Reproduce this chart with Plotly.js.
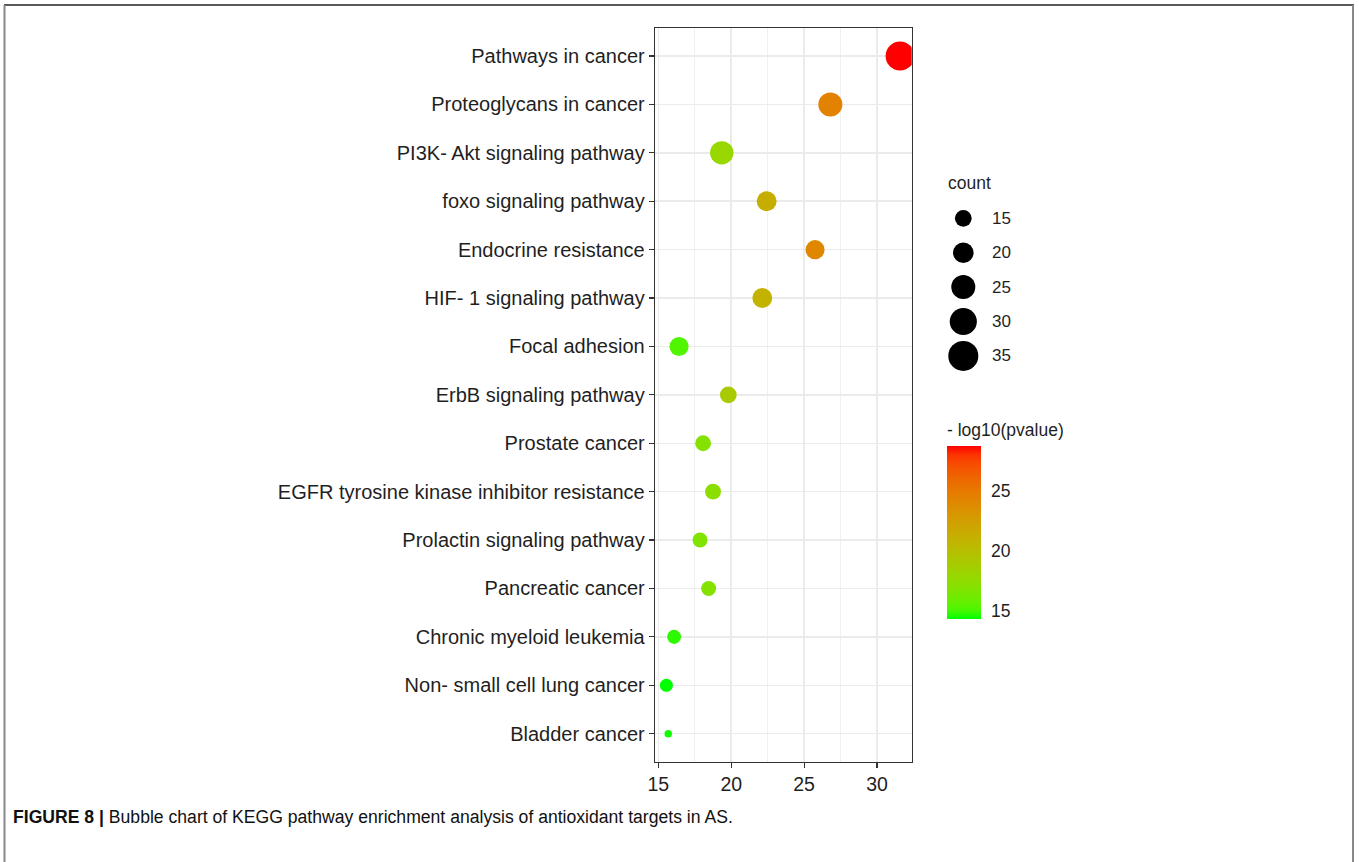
<!DOCTYPE html>
<html>
<head>
<meta charset="utf-8">
<script src="https://cdn.plot.ly/plotly-3.0.1.min.js"></script>
<style>
  html, body { margin: 0; padding: 0; background: #fff; }
  #chart { width: 1359px; height: 862px; }
</style>
</head>
<body>
<div id="chart"></div>
<script>
// ---------------- data ----------------
const categories = [
  "Pathways in cancer",
  "Proteoglycans in cancer",
  "PI3K- Akt signaling pathway",
  "foxo signaling pathway",
  "Endocrine resistance",
  "HIF- 1 signaling pathway",
  "Focal adhesion",
  "ErbB signaling pathway",
  "Prostate cancer",
  "EGFR tyrosine kinase inhibitor resistance",
  "Prolactin signaling pathway",
  "Pancreatic cancer",
  "Chronic myeloid leukemia",
  "Non- small cell lung cancer",
  "Bladder cancer"
];
const xValues   = [31.58, 26.8, 19.35, 22.43, 25.75, 22.13, 16.42, 19.8, 18.07, 18.75, 17.86, 18.45, 16.08, 15.55, 15.68];
const counts    = [33, 25, 24, 19, 18, 19, 18, 15, 14, 14, 13, 13, 12, 11, 6];
const negLog10P = [28.75, 24.5, 18.0, 21.3, 24.1, 21.0, 15.3, 19.0, 17.0, 17.3, 16.8, 17.0, 14.8, 14.37, 14.55];

const xTickVals = [15, 20, 25, 30];
const sizeLegendCounts = [15, 20, 25, 30, 35];
const colorbarTickVals = [15, 20, 25];

// ---------------- helpers (style) ----------------
const W = 1359, H = 862;
const px = v => v / W;
const py = v => 1 - v / H;

// ggplot-like area size scale: diameter linear in sqrt(count)
function diam(c) { return -8.5 + 6.51 * Math.sqrt(c); }

// Lab interpolation green -> red (like scale_colour_gradient)
function lab2rgb(L, a, b) {
  let fy = (L + 16) / 116, fx = fy + a / 500, fz = fy - b / 200;
  const finv = t => (t * t * t > 0.008856 ? t * t * t : (t - 16 / 116) / 7.787);
  const X = 0.95047 * finv(fx), Y = 1.0 * finv(fy), Z = 1.08883 * finv(fz);
  let r = 3.2406 * X - 1.5372 * Y - 0.4986 * Z;
  let g = -0.9689 * X + 1.8758 * Y + 0.0415 * Z;
  let bb = 0.0557 * X - 0.2040 * Y + 1.0570 * Z;
  const gam = c => { c = c <= 0.0031308 ? 12.92 * c : 1.055 * Math.pow(c, 1 / 2.4) - 0.055; return Math.round(Math.max(0, Math.min(1, c)) * 255); };
  return 'rgb(' + gam(r) + ',' + gam(g) + ',' + gam(bb) + ')';
}
const labLow = [87.73, -86.18, 83.18];   // green
const labHigh = [53.24, 80.09, 67.20];   // red
const colorscale = [];
for (let i = 0; i <= 20; i++) {
  const t = i / 20;
  colorscale.push([t, lab2rgb(
    labLow[0] + t * (labHigh[0] - labLow[0]),
    labLow[1] + t * (labHigh[1] - labLow[1]),
    labLow[2] + t * (labHigh[2] - labLow[2]))]);
}

const textColor = '#1f1f1f';
const fontFam = 'Liberation Sans, Arial, sans-serif';

// ---------------- traces ----------------
const mainTrace = {
  type: 'scatter',
  mode: 'markers',
  x: xValues,
  y: categories,
  xaxis: 'x', yaxis: 'y',
  cliponaxis: true,
  marker: {
    size: counts.map(diam),
    color: negLog10P,
    colorscale: colorscale,
    showscale: true,
    line: { width: 0 },
    opacity: 1,
    colorbar: {
      x: px(946.7), xanchor: 'left', xpad: 0,
      y: py(532), yanchor: 'middle', ypad: 0,
      len: 173, lenmode: 'pixels',
      thickness: 34, thicknessmode: 'pixels',
      outlinewidth: 0,
      tickmode: 'array', tickvals: colorbarTickVals,
      ticks: 'outside', tickcolor: 'rgba(255,255,255,0)', ticklen: 7, tickwidth: 1,
      tickfont: { family: fontFam, size: 17.5, color: textColor }
    }
  },
  hoverinfo: 'x+y',
  showlegend: false
};

const legendDotX = 963.3 - 940;
const sizeLegendTrace = {
  type: 'scatter',
  mode: 'markers',
  x: sizeLegendCounts.map(() => legendDotX),
  y: sizeLegendCounts.map((c, i) => i),
  xaxis: 'x2', yaxis: 'y2',
  cliponaxis: false,
  marker: { size: sizeLegendCounts.map(diam), color: '#000', opacity: 1, line: { width: 0 } },
  hoverinfo: 'skip',
  showlegend: false
};

// ---------------- layout ----------------
const annotations = [
  { xref: 'paper', yref: 'paper', x: px(946), y: py(183), xanchor: 'left', yanchor: 'middle',
    text: 'count', showarrow: false, font: { family: fontFam, size: 17.5, color: textColor } },
  { xref: 'paper', yref: 'paper', x: px(945), y: py(430), xanchor: 'left', yanchor: 'middle',
    text: '- log10(pvalue)', showarrow: false, font: { family: fontFam, size: 17.5, color: textColor } },
  { xref: 'paper', yref: 'paper', x: px(11), y: py(817), xanchor: 'left', yanchor: 'middle',
    text: '<b>FIGURE 8 |</b> Bubble chart of KEGG pathway enrichment analysis of antioxidant targets in AS.',
    showarrow: false, font: { family: fontFam, size: 17.6, color: '#111' } }
];
sizeLegendCounts.forEach((c, i) => {
  annotations.push({ xref: 'x2', yref: 'y2', x: 990 - 940, y: i, xanchor: 'left', yanchor: 'middle',
    text: String(c), showarrow: false, font: { family: fontFam, size: 17, color: textColor } });
});

const shapes = [
  { type: 'line', xref: 'paper', yref: 'paper', x0: px(4), x1: px(1354), y0: py(5), y1: py(5),
    line: { color: '#222', width: 1.5 } },
  { type: 'line', xref: 'paper', yref: 'paper', x0: px(4.5), x1: px(4.5), y0: py(5), y1: py(862),
    line: { color: '#888', width: 2 } },
  { type: 'line', xref: 'paper', yref: 'paper', x0: px(1353), x1: px(1353), y0: py(5), y1: py(862),
    line: { color: '#888', width: 2 } }
];

const nCat = categories.length;
const layout = {
  width: W, height: H,
  margin: { l: 0, r: 0, t: 0, b: 0, pad: 0 },
  paper_bgcolor: '#fff',
  plot_bgcolor: '#fff',
  font: { family: fontFam, color: textColor },
  showlegend: false,
  xaxis: {
    domain: [px(655), px(911.7)],
    range: [14.77, 32.38],
    anchor: 'y',
    tickmode: 'array', tickvals: xTickVals,
    ticks: 'outside', ticklen: 5, tickwidth: 1.2, tickcolor: '#333',
    showline: true, mirror: true, linecolor: '#333', linewidth: 1.3,
    showgrid: true, gridcolor: '#EBEBEB', gridwidth: 1.5,
    minor: { tickmode: 'array', tickvals: [17.5, 22.5, 27.5, 32.5], showgrid: true, gridcolor: '#F0F0F0', gridwidth: 1, ticks: '' },
    zeroline: false,
    tickfont: { family: fontFam, size: 19.5, color: textColor }
  },
  yaxis: {
    domain: [py(761.7), py(28)],
    type: 'category',
    categoryorder: 'array', categoryarray: categories,
    range: [nCat - 1 + 0.579, -0.579],
    anchor: 'x',
    ticks: 'outside', ticklen: 5, tickwidth: 1.2, tickcolor: '#333',
    showline: true, mirror: true, linecolor: '#333', linewidth: 1.3,
    showgrid: true, gridcolor: '#EBEBEB', gridwidth: 1.5,
    zeroline: false,
    tickfont: { family: fontFam, size: 20, color: textColor }
  },
  xaxis2: {
    domain: [px(940), px(1000)], range: [0, 60], anchor: 'y2', visible: false, fixedrange: true
  },
  yaxis2: {
    domain: [py(373.1), py(201.1)], range: [sizeLegendCounts.length - 0.5, -0.5], anchor: 'x2', visible: false, fixedrange: true
  },
  annotations: annotations,
  shapes: shapes
};

Plotly.newPlot('chart', [mainTrace, sizeLegendTrace], layout, { displayModeBar: false, staticPlot: true });
</script>
</body>
</html>
